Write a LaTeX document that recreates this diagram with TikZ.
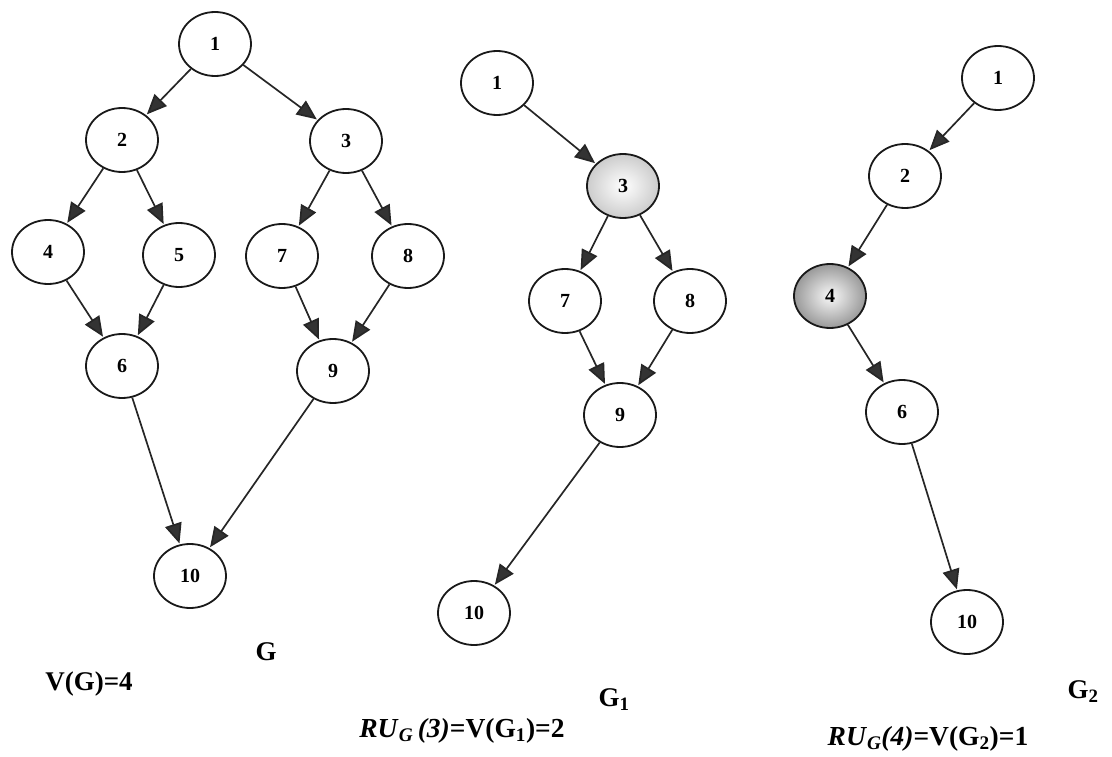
\documentclass[tikz,border=0pt]{standalone}
\usepackage{fontspec}
\setmainfont{Liberation Serif}
\usetikzlibrary{shapes.geometric,arrows.meta}

\begin{document}
\begin{tikzpicture}[x=1pt,y=-1pt,
  vertex/.style={ellipse,draw=black!90,line width=1.8pt,minimum width=72pt,minimum height=64pt,
    inner sep=0pt,font=\fontsize{20}{20}\selectfont\bfseries},
  edge/.style={draw=black!85,line width=1.7pt,
    -{Triangle[length=20pt,width=17pt,fill=black!80]},shorten >=1pt},
  lbl/.style={font=\fontsize{27}{27}\selectfont\bfseries},
  formula/.style={font=\fontsize{27.5}{27.5}\selectfont\bfseries}]
\useasboundingbox (0,0) rectangle (1112,757);

% graph G
\node[vertex] (a1)  at (215,44)  {1};
\node[vertex] (a2)  at (122,140) {2};
\node[vertex] (a3)  at (346,141) {3};
\node[vertex] (a4)  at (48,252)  {4};
\node[vertex] (a5)  at (179,255) {5};
\node[vertex] (a7)  at (282,256) {7};
\node[vertex] (a8)  at (408,256) {8};
\node[vertex] (a6)  at (122,366) {6};
\node[vertex] (a9)  at (333,371) {9};
\node[vertex] (a10) at (190,576) {10};
\foreach \s/\t in {a1/a2,a1/a3,a2/a4,a2/a5,a3/a7,a3/a8,a4/a6,a5/a6,a7/a9,a8/a9,a6/a10,a9/a10}
  \draw[edge] (\s) -- (\t);

% graph G1
\node[vertex] (b1)  at (497,83)  {1};
\node[vertex,shading=radial,inner color=white,outer color=gray!40] (b3) at (623,186) {3};
\node[vertex] (b7)  at (565,301) {7};
\node[vertex] (b8)  at (690,301) {8};
\node[vertex] (b9)  at (620,415) {9};
\node[vertex] (b10) at (474,613) {10};
\foreach \s/\t in {b1/b3,b3/b7,b3/b8,b7/b9,b8/b9,b9/b10}
  \draw[edge] (\s) -- (\t);

% graph G2
\node[vertex] (c1)  at (998,78)  {1};
\node[vertex] (c2)  at (905,176) {2};
\node[vertex,shading=radial,inner color=gray!5,outer color=gray!80] (c4) at (830,296) {4};
\node[vertex] (c6)  at (902,412) {6};
\node[vertex] (c10) at (967,622) {10};
\foreach \s/\t in {c1/c2,c2/c4,c4/c6,c6/c10}
  \draw[edge] (\s) -- (\t);

% captions
\node[lbl] (capG)  at (266,652) {G};
\node[lbl] (capV)  at (89,684)  {V(G)=4};
\node[lbl] (capG1) at (614,700) {G\textsubscript{1}};
\node[formula] (ru3) at (462,731)
  {\textit{RU}\textsubscript{\textit{G}}\,\textit{(3)}=V(G\textsubscript{1})=2};
\node[lbl] (capG2) at (1083,692) {G\textsubscript{2}};
\node[formula] (ru4) at (928,739)
  {\textit{RU}\textsubscript{\textit{G}}\textit{(4)}=V(G\textsubscript{2})=1};
\end{tikzpicture}
\end{document}
